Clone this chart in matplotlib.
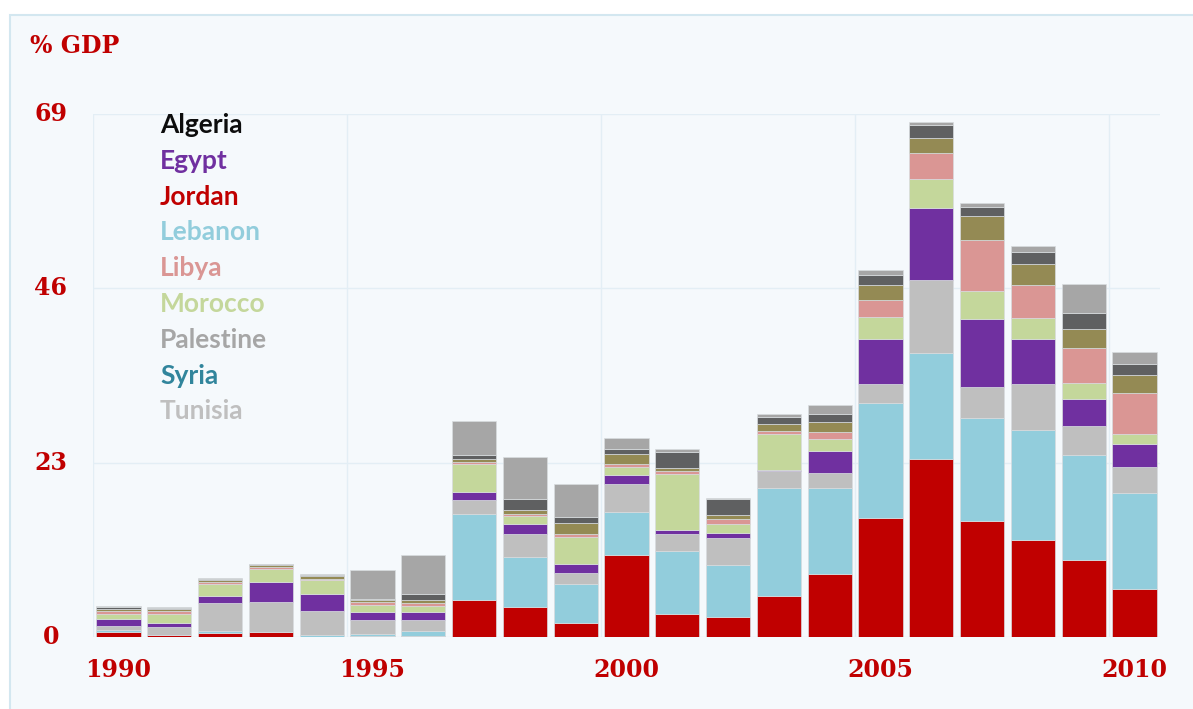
import numpy as np
import matplotlib.pyplot as plt
from matplotlib.patches import Rectangle

# % of GDP by country, 1990-2010
years = list(range(1990, 2011))

jordan    = [0.70, 0.22, 0.53, 0.60, 0.00, 0.13, 0.13, 4.93, 3.96, 1.89, 10.86, 3.08, 2.60, 5.45, 8.36, 15.7, 23.5, 15.35, 12.8, 10.1, 6.38]
lebanon   = [0.22, 0.00, 0.30, 0.00, 0.25, 0.22, 0.60, 11.35, 6.60, 5.10, 5.63, 8.27, 6.95, 14.2, 11.3, 15.2, 14.0, 13.5, 14.56, 13.85, 12.66]
tunisia   = [0.57, 1.13, 3.60, 4.00, 3.20, 1.90, 1.50, 1.85, 2.99, 1.50, 3.65, 2.20, 3.52, 2.20, 2.02, 2.50, 9.60, 4.09, 6.07, 3.87, 3.43]
egypt     = [0.88, 0.53, 1.00, 2.70, 2.24, 1.06, 1.06, 1.01, 1.36, 1.19, 1.19, 0.57, 0.66, 0.22, 2.86, 5.94, 9.50, 8.97, 5.94, 3.60, 3.03]
morocco   = [0.66, 1.14, 1.50, 1.63, 1.80, 0.97, 0.74, 3.74, 1.01, 3.56, 1.14, 7.39, 1.23, 4.66, 1.54, 2.86, 3.78, 3.74, 2.68, 2.10, 1.32]
libya     = [0.44, 0.35, 0.30, 0.35, 0.22, 0.35, 0.40, 0.22, 0.31, 0.35, 0.40, 0.35, 0.66, 0.48, 1.01, 2.20, 3.52, 6.73, 4.40, 4.62, 5.41]
syria     = [0.26, 0.26, 0.26, 0.26, 0.40, 0.30, 0.48, 0.44, 0.53, 1.45, 1.32, 0.48, 0.44, 0.84, 1.32, 2.02, 1.98, 3.17, 2.73, 2.50, 2.33]
algeria   = [0.22, 0.22, 0.22, 0.10, 0.10, 0.05, 0.75, 0.53, 1.41, 0.75, 0.57, 2.07, 2.20, 0.92, 1.06, 1.28, 1.63, 1.23, 1.63, 2.10, 1.41]
palestine = [0.10, 0.05, 0.10, 0.05, 0.05, 3.90, 5.20, 4.40, 5.54, 4.35, 1.50, 0.44, 0.09, 0.44, 1.19, 0.70, 0.44, 0.44, 0.80, 3.83, 1.63]

# stacking order, bottom to top
stack = [
    ("Jordan", jordan, "#C00000"),
    ("Lebanon", lebanon, "#92CDDC"),
    ("Tunisia", tunisia, "#BFBFBF"),
    ("Egypt", egypt, "#7030A0"),
    ("Morocco", morocco, "#C4D79B"),
    ("Libya", libya, "#DA9694"),
    ("Syria", syria, "#948A54"),
    ("Algeria", algeria, "#5F6061"),
    ("Palestine", palestine, "#A6A6A6"),
]

legend_names  = ["Algeria", "Egypt", "Jordan", "Lebanon", "Libya", "Morocco", "Palestine", "Syria", "Tunisia"]
legend_colors = ["#0D0D0D", "#7030A0", "#C00000", "#92CDDC", "#DA9694", "#C4D79B", "#A6A6A6", "#31859C", "#BFBFBF"]

y_ticks   = [0, 23, 46, 69]
x_labels  = [1990, 1995, 2000, 2005, 2010]

BG = "#F5F9FC"
RED = "#C00000"
W, H = 1193, 709

fig = plt.figure(figsize=(W / 100, H / 100), dpi=100, facecolor="white")
fig.patches.append(Rectangle((10 / W, -0.01), 1.0, 1 - 15 / H + 0.01, transform=fig.transFigure,
                             facecolor=BG, edgecolor="#D3E7F0", lw=1.5, zorder=-5))

ax = fig.add_axes([93 / W, 1 - 637 / H, (1160 - 93) / W, (637 - 114) / H], zorder=2)
ax.set_facecolor(BG)

x = np.arange(len(years))
bottom = np.zeros(len(years))
for name, vals, color in stack:
    vals = np.array(vals)
    ax.bar(x, vals, bottom=bottom, width=0.87, color=color, edgecolor="#D8DCDF", linewidth=0.5, zorder=3)
    bottom += vals

ax.set_xlim(-0.5, len(years) - 0.5)
ax.set_ylim(0, 69)
for v in y_ticks[1:]:
    ax.axhline(v, color="#E3EEF5", lw=1, zorder=1)
for v in [-0.5, 4.5, 9.5, 14.5, 19.5]:
    ax.axvline(v, color="#E3EEF5", lw=1, zorder=1)
ax.axhline(0, color="#E3EEF5", lw=1, zorder=1)

for s in ax.spines.values():
    s.set_visible(False)
ax.set_xticks([])
ax.set_yticks([])

serif = dict(family="DejaVu Serif", weight="bold", color=RED, fontsize=17)
for v in y_ticks:
    ax.text(-1.33, v, str(v), ha="center", va="center", **serif)
for yr in x_labels:
    ax.text(years.index(yr), -4.4, str(yr), ha="center", va="center", **serif)

fig.text(30 / W, 1 - 46 / H, "% GDP", ha="left", va="center", **serif)

for i, (name, color) in enumerate(zip(legend_names, legend_colors)):
    fig.text(160 / W, 1 - (125 + i * 35.8) / H, name, ha="left", va="center",
             family="Lato", weight="bold", fontsize=19, color=color, zorder=5)

fig.savefig("out.png", dpi=100, facecolor="white")
